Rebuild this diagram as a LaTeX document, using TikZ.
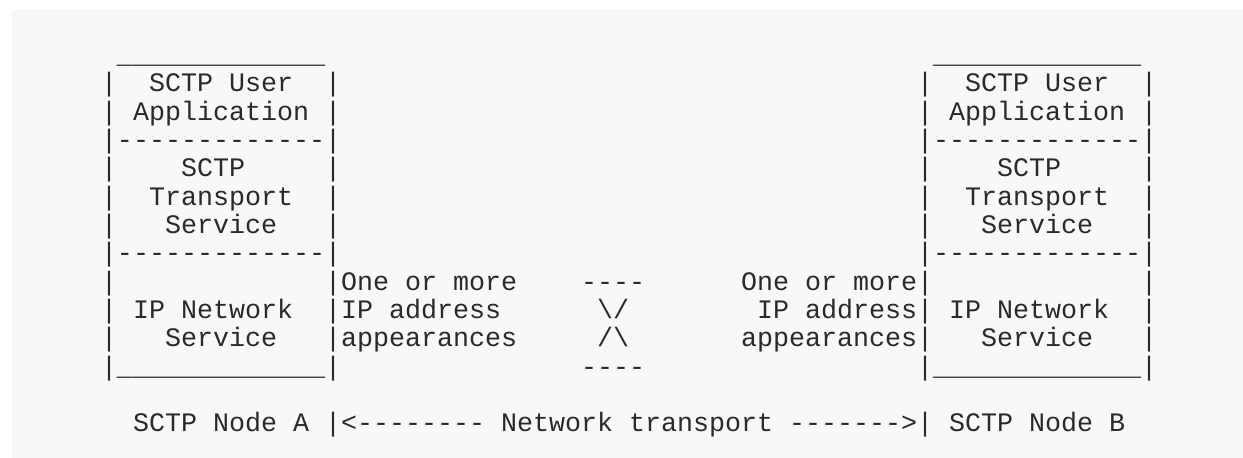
\documentclass[tikz,border=0pt]{standalone}
\usepackage{fontspec}
\setmonofont{Liberation Mono}
\usepackage{tikz}
\newcommand{\colwidth}{16pt}
\newcommand{\rowheight}{28.33pt}
\definecolor{asciitext}{HTML}{2A2A2A}
\definecolor{panelfill}{HTML}{F8F8F8}
\definecolor{panelline}{HTML}{ECECEC}
\tikzstyle{ascii}=[inner sep=0, outer sep=0, anchor=base west, text=asciitext,
                   font=\ttfamily\fontsize{26.67pt}{28.33pt}\selectfont]
\tikzstyle{asciiart}=[x=\colwidth, y=-\rowheight]

\begin{document}
\begin{tikzpicture}[asciiart]
    \useasboundingbox (-101pt, 63.4pt) rectangle (1142pt, -394.6pt);
    \draw[panelline, fill=panelfill, rounded corners=4pt] (-88.5pt, 53.4pt) rectangle (1300pt, -500pt);
    % the two SCTP nodes, same box on both sides
    \foreach \side/\off in {A/0, B/51} {
        \node[ascii] (top\side) at (\off+1, 0) {\_\_\_\_\_\_\_\_\_\_\_\_\_};
        \foreach \r in {1,...,11} {
            \node[ascii] (left\side\r) at (\off, \r) {|};
            \node[ascii] (right\side\r) at (\off+14, \r) {|};
        }
        \node[ascii] (user\side) at (\off+3, 1) {SCTP User};
        \node[ascii] (app\side) at (\off+2, 2) {Application};
        \node[ascii] (sepup\side) at (\off+1, 3) {-------------};
        \node[ascii] (sctp\side) at (\off+5, 4) {SCTP};
        \node[ascii] (trans\side) at (\off+3, 5) {Transport};
        \node[ascii] (serv\side) at (\off+4, 6) {Service};
        \node[ascii] (seplow\side) at (\off+1, 7) {-------------};
        \node[ascii] (ip\side) at (\off+2, 9) {IP Network};
        \node[ascii] (ipserv\side) at (\off+4, 10) {Service};
        \node[ascii] (bottom\side) at (\off+1, 11) {\_\_\_\_\_\_\_\_\_\_\_\_\_};
    }
    % address appearances
    \node[ascii] (addrA1) at (15, 8) {One or more};
    \node[ascii] (addrA2) at (15, 9) {IP address};
    \node[ascii] (addrA3) at (15, 10) {appearances};
    \node[ascii] (addrB1) at (40, 8) {One or more};
    \node[ascii] (addrB2) at (41, 9) {IP address};
    \node[ascii] (addrB3) at (40, 10) {appearances};
    % the network in between
    \node[ascii] (nettop) at (30, 8) {----};
    \node[ascii] (netup) at (31, 9) {\textbackslash/};
    \node[ascii] (netdown) at (31, 10) {/\textbackslash};
    \node[ascii] (netbottom) at (30, 11) {----};
    % node names and transport
    \node[ascii] (nameA) at (2, 13) {SCTP Node A};
    \node[ascii] (transport) at (14, 13) {|<-------- Network transport ------->|};
    \node[ascii] (nameB) at (53, 13) {SCTP Node B};
\end{tikzpicture}
\end{document}
